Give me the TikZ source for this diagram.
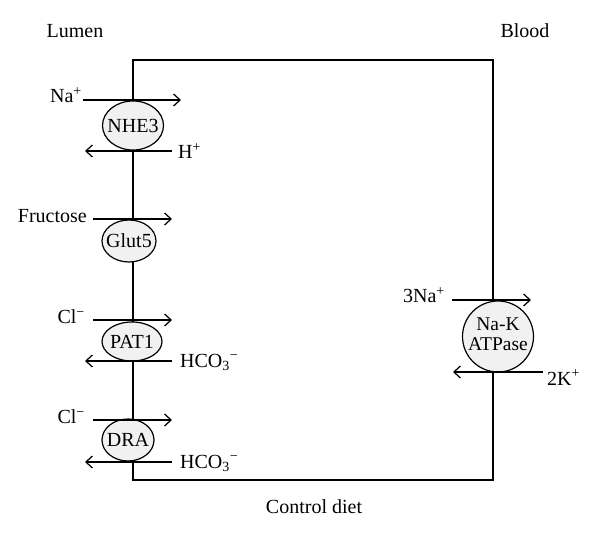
\documentclass[tikz,border=0pt]{standalone}
\usepackage{fontspec}
\setmainfont{Liberation Serif}
\usetikzlibrary{shapes.geometric,arrows.meta}
\begin{document}
\begin{tikzpicture}[x=1pt,y=-1pt,
  lbl/.style={font=\fontsize{20}{23}\selectfont, inner sep=0pt},
  transp/.style={draw, ellipse, fill=gray!11, line width=1.2pt, inner sep=0pt, font=\fontsize{20}{22}\selectfont},
  flux/.style={line width=1.25pt, -{Straight Barb[length=6.5pt,width=12pt]}},
  memb/.style={line width=1.3pt}]
\useasboundingbox (0,0) rectangle (600,537);
% cell
\coordinate (tl) at (133,60);
\coordinate (br) at (493,480);
\draw[memb] (tl) rectangle (br);
% titles
\node[lbl] (lumen) at (75,31) {Lumen};
\node[lbl] (blood) at (525,31) {Blood};
\node[lbl] (diet) at (314,507) {Control diet};
% transporters
\node[transp, minimum width=61pt, minimum height=49pt] (nhe3) at (133,125.5) {\makebox[0pt]{NHE3}};
\node[transp, minimum width=54pt, minimum height=42pt] (glut5) at (129,241) {\makebox[0pt]{Glut5}};
\node[transp, minimum width=60pt, minimum height=39pt] (pat1) at (132,341.5) {\makebox[0pt]{PAT1}};
\node[transp, minimum width=52pt, minimum height=42pt] (dra) at (128,440) {\makebox[0pt]{DRA}};
\node[transp, circle, minimum size=71pt, font=\fontsize{19.5}{20.5}\selectfont] (nak) at (498,336.5)
  {\makebox[0pt]{\begin{tabular}{@{}c@{}}Na-K\\[-1pt]ATPase\end{tabular}}};
% flux endpoints
\coordinate (na1s) at (83,100);   \coordinate (na1e) at (181,100);
\coordinate (h1s) at (172,151);   \coordinate (h1e) at (85,151);
\coordinate (frs) at (93,219);    \coordinate (fre) at (172,219);
\coordinate (cl1s) at (93,320);   \coordinate (cl1e) at (172,320);
\coordinate (hc1s) at (172,361);  \coordinate (hc1e) at (85,361);
\coordinate (cl2s) at (93,420);   \coordinate (cl2e) at (172,420);
\coordinate (hc2s) at (172,462);  \coordinate (hc2e) at (85,462);
\coordinate (na3s) at (452,300);  \coordinate (na3e) at (531,300);
\coordinate (k2s) at (543,372);   \coordinate (k2e) at (453,372);
\draw[flux] (na1s) -- (na1e);
\draw[flux] (h1s) -- (h1e);
\draw[flux] (frs) -- (fre);
\draw[flux] (cl1s) -- (cl1e);
\draw[flux] (hc1s) -- (hc1e);
\draw[flux] (cl2s) -- (cl2e);
\draw[flux] (hc2s) -- (hc2e);
\draw[flux] (na3s) -- (na3e);
\draw[flux] (k2s) -- (k2e);
% ion labels
\node[lbl, anchor=base east] (lna1) at (82,103) {Na\textsuperscript{+}};
\node[lbl, anchor=base west] (lh1) at (178,159) {H\textsuperscript{+}};
\node[lbl, anchor=base east] (lfr) at (87,223) {Fructose};
\node[lbl, anchor=base east] (lcl1) at (85,324) {Cl\textsuperscript{−}};
\node[lbl, anchor=base west] (lhc1) at (180,367) {HCO\textsubscript{3}\textsuperscript{−}};
\node[lbl, anchor=base east] (lcl2) at (85,424) {Cl\textsuperscript{−}};
\node[lbl, anchor=base west] (lhc2) at (180,468) {HCO\textsubscript{3}\textsuperscript{−}};
\node[lbl, anchor=base east] (lna3) at (445,303) {3Na\textsuperscript{+}};
\node[lbl, anchor=base west] (lk2) at (547,385) {2K\textsuperscript{+}};
\end{tikzpicture}
\end{document}
